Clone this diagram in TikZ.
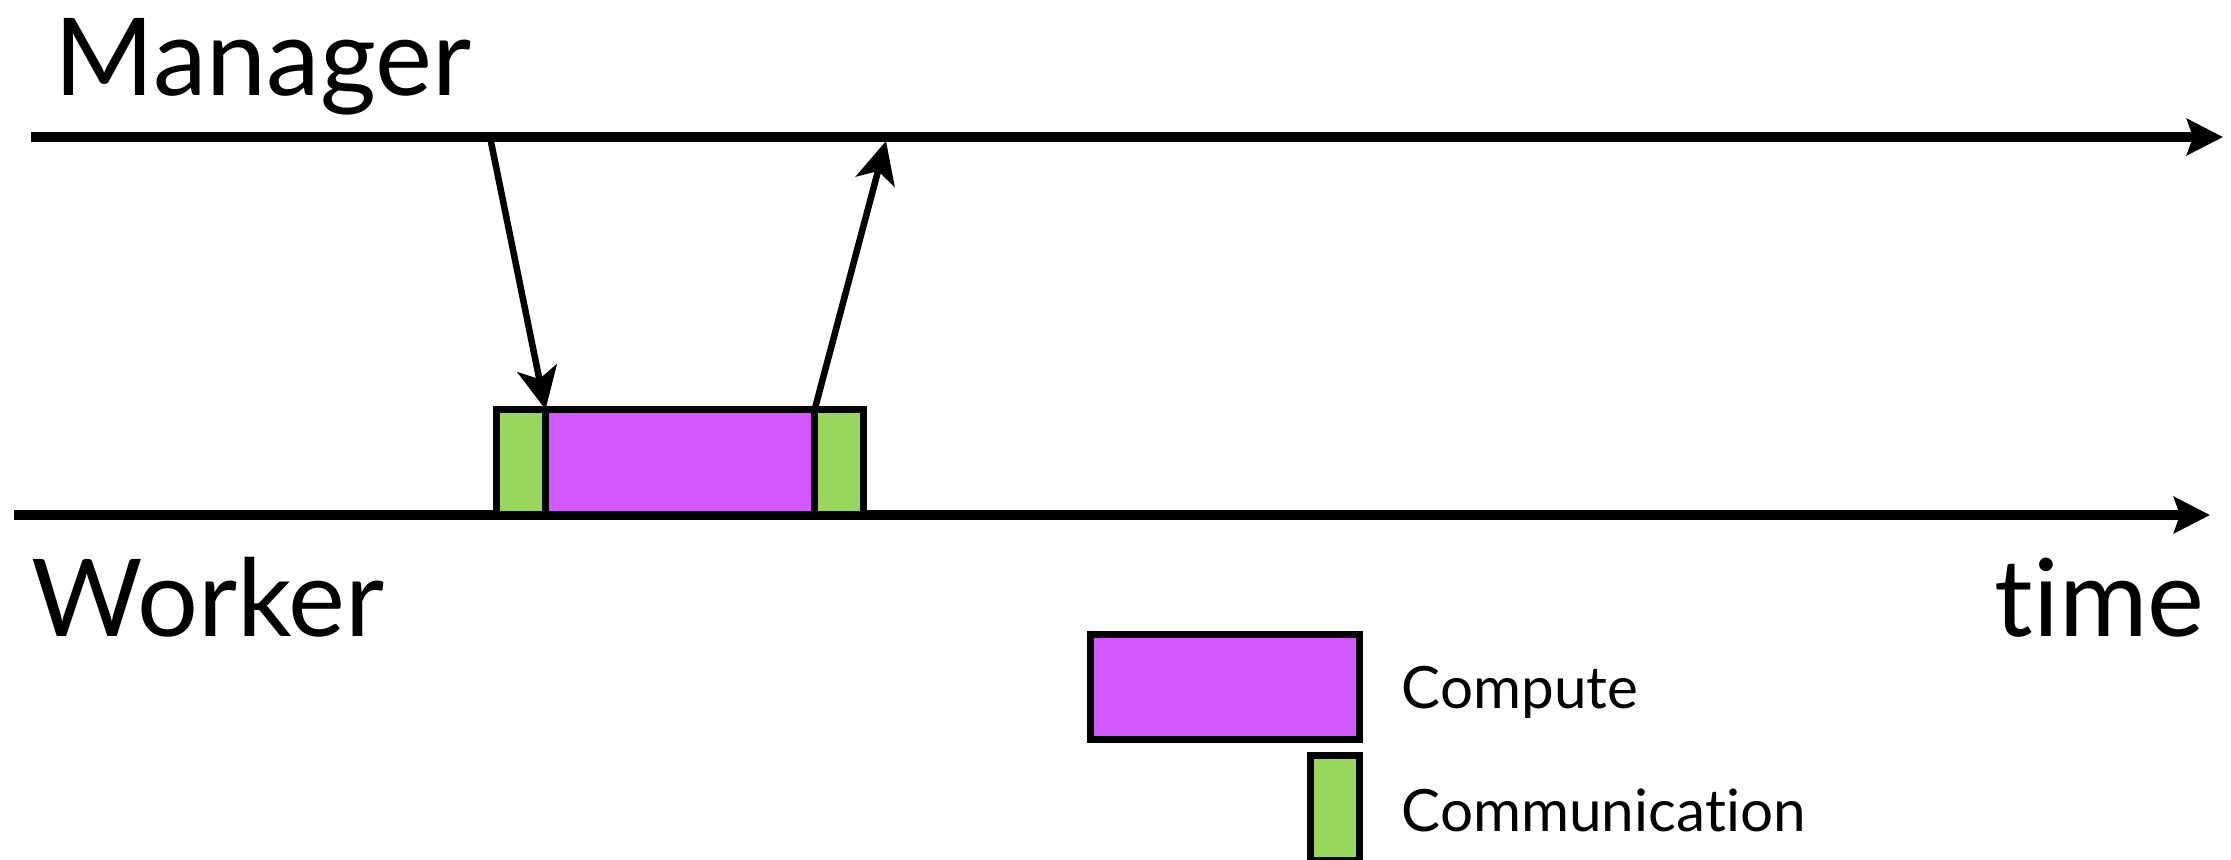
\documentclass[tikz,border=0pt]{standalone}
\usepackage{fontspec}
\setmainfont{Lato}[Ligatures={NoCommon,NoRare}]
\usetikzlibrary{arrows.meta,positioning}

\definecolor{computecol}{RGB}{211,89,255}
\definecolor{commcol}{RGB}{153,214,94}

\tikzset{
  timeline/.style={line width=0.095cm, -{Stealth[length=0.36cm,width=0.36cm,inset=0.06cm]}},
  msg/.style={line width=0.065cm, -{Stealth[length=0.42cm,width=0.40cm,inset=0.11cm]}},
  workbox/.style={draw, line width=0.065cm, fill=computecol, inner sep=0pt, outer sep=0pt,
    minimum width=2.69cm, minimum height=1.05cm},
  commbox/.style={workbox, fill=commcol, minimum width=0.49cm},
  lane/.style={inner sep=0pt, anchor=base west, font=\fontsize{30.6}{36}\selectfont},
  keytext/.style={inner sep=0pt, anchor=base west, font=\fontsize{16.6}{20}\selectfont}
}

\begin{document}
\begin{tikzpicture}[x=0.01cm, y=-0.01cm]
  \useasboundingbox (0,0) rectangle (2231,859);
  \clip (0,0) rectangle (2231,859);

  % the two time lines
  \node [lane] (manager) at (54,95) {Manager};
  \coordinate (mstart) at (31,137);
  \coordinate (mend) at (2223,137);
  \draw [timeline] (mstart) -- (mend);

  \coordinate (wstart) at (14,515);
  \coordinate (wend) at (2210,515);
  \draw [timeline] (wstart) -- (wend);
  \node [lane] (worker) at (31,636) {Worker};
  \node [lane, anchor=base east] (time) at (2205,636) {time};

  % one task on the worker
  \node [commbox] (comm1) at (521,462) {};
  \node [workbox, anchor=west] (work) at (comm1.east) {};
  \node [commbox, anchor=west] (comm2) at (work.east) {};

  \coordinate (send) at (490,137);
  \coordinate (reply) at (886,141);
  \draw [msg] (send) -- (comm1.north east);
  \draw [msg] (comm2.north west) -- (reply);

  % legend
  \node [workbox] (keycompute) at (1225,687) {};
  \node [commbox, below=0.16cm of keycompute.south east, anchor=north east] (keycomm) {};
  \node [keytext] (computetext) at (1401,708) {Compute};
  \node [keytext] (commtext) at (1401,831) {Communication};
\end{tikzpicture}
\end{document}
